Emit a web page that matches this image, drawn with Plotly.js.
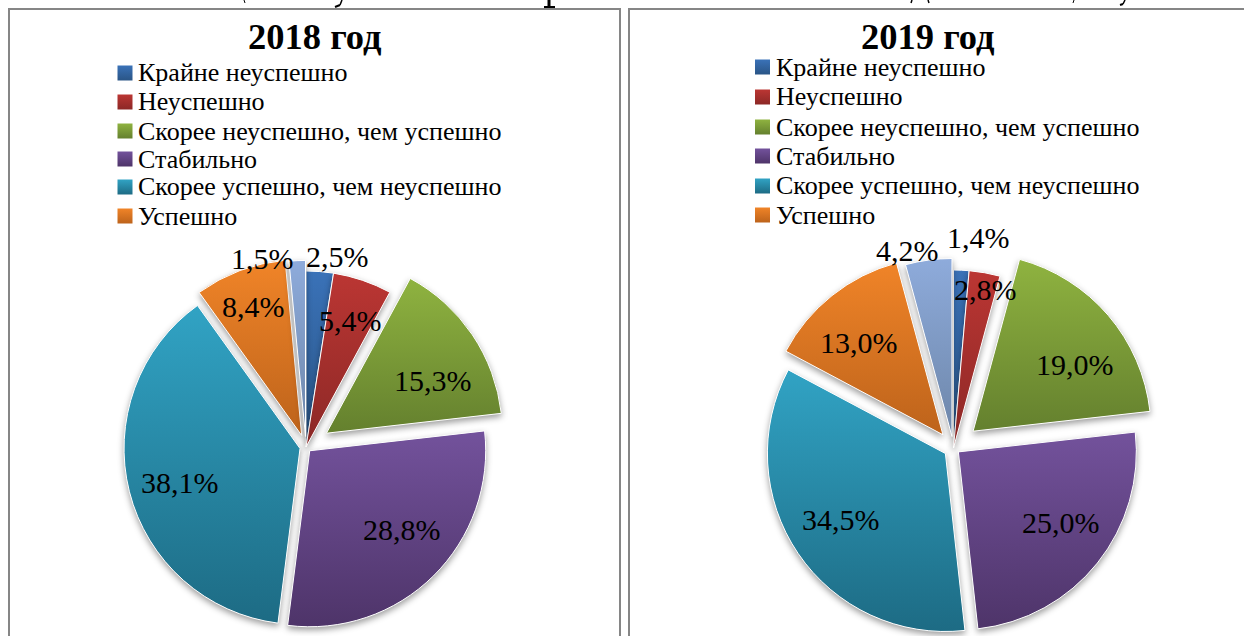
<!DOCTYPE html>
<html><head><meta charset="utf-8">
<script src="https://cdn.plot.ly/plotly-3.0.1.min.js"></script>
<style>html,body{margin:0;padding:0;background:#fff;overflow:hidden;width:1244px;height:636px}#c{width:1244px;height:636px;overflow:hidden}</style>
</head><body><div id="c"></div>
<script>
const W = 1244, H = 720;
const categories = ['Крайне неуспешно','Неуспешно','Скорее неуспешно, чем успешно','Стабильно','Скорее успешно, чем неуспешно','Успешно','Прочее'];
const values2018 = [2.5,5.4,15.3,28.8,38.1,8.4,1.5];
const values2019 = [1.4,2.8,19.0,25.0,34.5,13.0,4.2];
const pull2018 = [0,0,0.14,0.03,0.035,0.07,0.06];
const pull2019 = [0,0,0.145,0.035,0.055,0.095,0.065];
const topColors = ['#3a72b8','#bb3633','#8fb340','#73529c','#31a3c4','#f08428','#8eabdb'];
const botColors = ['#2a5586','#8c2826','#64802e','#4e3469','#1d6b84','#bd631b','#6d86a9'];
const labelPos2018 = [[337,256],[350,320],[433,380],[402,529],[180,483],[253,306],[262,258]];
const labelPos2019 = [[978,238],[985,289],[1075,364],[1061,522],[841,519],[859,342],[907,250]];
const legendRows2018 = [73,102,131,159,187,216];
const legendRows2019 = [67,97,127,156,186,215];

const px = x => x / W, py = y => 1 - y / H;
function dom(cx, cy, r, pulls){const half=r*(1+Math.max(...pulls));return {x:[px(cx-half), px(cx+half)], y:[py(cy+half), py(cy-half)]};}
const fmt = v => v.toFixed(1).replace('.',',') + '%';
const serif = '"Liberation Serif", serif';

function pie(vals, pulls, domain){
  return {type:'pie', values:vals, labels:categories, sort:false, direction:'clockwise', rotation:0,
    pull:pulls, domain:domain, textinfo:'none', showlegend:false, hoverinfo:'skip',
    marker:{colors:topColors, line:{color:'#ffffff', width:1}}};
}
const annotations = [], shapes = [];
function txt(t,x,y,size,bold,anchor){
  annotations.push({text:bold?'<b>'+t+'</b>':t, xref:'paper', yref:'paper', x:px(x), y:py(y), xanchor:anchor||'center', yanchor:'middle',
    showarrow:false, borderpad:0, font:{family:serif,size:size,color:'#000'}});
}
txt('2018 год',315,36,36.5,true);
txt('2019 год',928,36,36.5,true);
values2018.forEach((v,i)=>txt(fmt(v),labelPos2018[i][0],labelPos2018[i][1],30));
values2019.forEach((v,i)=>txt(fmt(v),labelPos2019[i][0],labelPos2019[i][1],30));

[[9,620],[629,1270]].forEach(r=>shapes.push({type:'rect',xref:'paper',yref:'paper',x0:px(r[0]),x1:px(r[1]),y0:py(9),y1:py(700),line:{color:'#868686',width:2},fillcolor:'rgba(0,0,0,0)',layer:'below'}));
// the clipped bottoms of a line of text above the panels
[[244,0,245,3,1],[342,0,340,5,1.5],[340,5,335,7,2],[549,0,549,6,3],[544,7,555,7,2],[912,0,911,3,1.5],[928,0,929,3,1.5],[1074,0,1073,3,1],[1125,0,1123,4,1.5],[1123,4,1120,5,2]].forEach(s=>
  shapes.push({type:'line',xref:'paper',yref:'paper',x0:px(s[0]),y0:py(s[1]),x1:px(s[2]),y1:py(s[3]),line:{color:'#000',width:s[4]},layer:'below'}));
function legend(rows,sx,tx){
  rows.forEach((y,i)=>{
    shapes.push({type:'rect',xref:'paper',yref:'paper',x0:px(sx),x1:px(sx+15),y0:py(y-7.5),y1:py(y+7.5),line:{width:0},fillcolor:topColors[i],layer:'above'});
    txt(categories[i],tx,y,26,false,'left');
  });
}
legend(legendRows2018,117.5,136.5);
legend(legendRows2019,755,774.5);

Plotly.newPlot('c',[pie(values2018,pull2018,dom(306,447,176,pull2018)),pie(values2019,pull2019,dom(953.5,448,178,pull2019))],
 {width:W,height:H,margin:{l:0,r:0,t:0,b:0},paper_bgcolor:'#fff',plot_bgcolor:'#fff',showlegend:false,annotations,shapes},
 {displayModeBar:false,staticPlot:true}).then(gd=>{
  const svg = gd.querySelector('svg.main-svg');
  const ns='http://www.w3.org/2000/svg';
  const defs = svg.querySelector('defs')||svg.insertBefore(document.createElementNS(ns,'defs'),svg.firstChild);
  topColors.forEach((c,i)=>{
    const g=document.createElementNS(ns,'linearGradient');
    g.setAttribute('id','grad'+i);g.setAttribute('x1','0');g.setAttribute('y1','0');g.setAttribute('x2','0');g.setAttribute('y2','1');
    [[0,c],[1,botColors[i]]].forEach(s=>{const st=document.createElementNS(ns,'stop');st.setAttribute('offset',s[0]);st.setAttribute('stop-color',s[1]);g.appendChild(st);});
    defs.appendChild(g);
  });
  gd.querySelectorAll('.pielayer .trace').forEach(tr=>{
    tr.querySelectorAll('.slice').forEach((s,i)=>{
      const p=s.querySelector('path.surface');
      p.style.fill='url(#grad'+i+')';
      p.style.filter='drop-shadow(0 3px 3px rgba(0,0,0,.38))';
    });
  });
  const sw=[...gd.querySelectorAll('.layer-above .shapelayer path')];
  sw.forEach((p,k)=>{p.style.fill='url(#grad'+(k%6)+')';});
 });
</script></body></html>
